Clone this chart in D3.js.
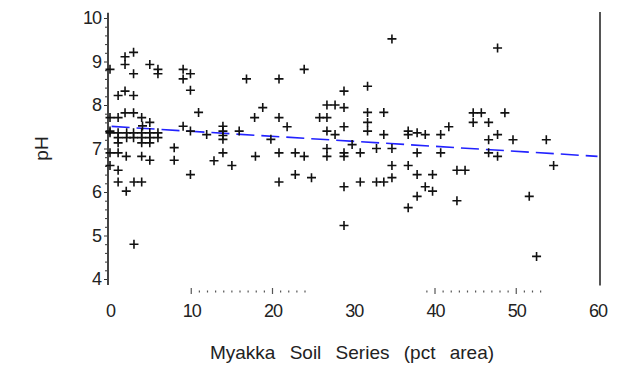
<!DOCTYPE html>
<html>
<head>
<meta charset="utf-8">
<script src="https://cdn.jsdelivr.net/npm/d3@7"></script>
<style>
  body { margin: 0; background: #fff; }
  text { font-family: "Liberation Sans", Arial, sans-serif; fill: #222; }
</style>
</head>
<body>
<svg id="drawing_region"></svg>
<script>
// Myakka soil series (pct area) vs pH
const myakkaPct = [
    0, 1.85, 2.9, 1.85, 2.9, 4.9, 5.9, 5.9, 9.0, 9.9, 9.0, 9.9, 1.85, 1.0, 2.9,
    1.85, 2.9, 10.9, 0, 1.0, 3.9, 4.9, 4.0, 0, 9.0, 9.9,
    0, 1.0, 2.05, 2.9, 3.9, 4.9, 5.9, 1.0, 2.05, 2.9, 3.9, 4.9, 5.9,
    1.0, 3.9, 4.9, 7.9, 0, 1.0, 2.0, 3.9, 4.9, 7.9, 0, 1.0, 9.9,
    1.0, 2.95, 3.9, 2.0, 2.95,
    11.9, 13.9, 13.9, 13.9, 13.9, 13.9, 12.8, 15.0, 15.9, 16.8, 17.9, 17.8, 18.8, 19.8,
    20.8, 20.8, 20.8, 20.8, 21.8, 22.8, 22.8, 23.9, 23.9, 24.8, 25.8,
    26.7, 26.7, 26.7, 26.7, 26.7, 27.7, 27.7,
    28.8, 28.8, 28.8, 28.8, 28.8, 28.8, 28.8, 29.8, 30.8, 30.8,
    31.7, 31.7, 31.7, 31.7, 32.8, 32.8, 33.7, 33.7, 33.7, 34.7, 34.7, 34.7, 34.7,
    36.7, 36.7, 37.8, 38.8, 40.7, 36.7, 36.7, 37.8, 37.8, 37.8, 38.8, 39.7, 39.7,
    40.7, 41.7, 42.7, 43.7, 42.7, 44.7, 45.7, 48.6, 44.7, 46.6, 47.7, 46.6,
    49.6, 53.7, 46.6, 47.7, 47.7, 54.6, 51.6, 52.5
];
const soilPH = [
    8.82, 9.11, 9.21, 8.93, 8.72, 8.93, 8.82, 8.72, 8.82, 8.72, 8.6, 8.34, 8.32, 8.22, 8.22,
    7.82, 7.82, 7.83, 7.71, 7.71, 7.71, 7.6, 7.52, 7.4, 7.51, 7.4,
    7.36, 7.36, 7.36, 7.36, 7.36, 7.36, 7.36, 7.25, 7.25, 7.25, 7.25, 7.25, 7.25,
    7.13, 7.13, 7.13, 7.02, 6.9, 6.9, 6.82, 6.82, 6.73, 6.73, 6.61, 6.5, 6.4,
    6.23, 6.23, 6.23, 6.02, 4.8,
    7.32, 7.51, 7.4, 7.3, 7.21, 6.9, 6.72, 6.61, 7.4, 8.6, 6.82, 7.71, 7.94, 7.21,
    8.6, 7.71, 6.9, 6.23, 7.5, 6.9, 6.4, 8.82, 6.82, 6.33, 7.71,
    8.0, 7.71, 7.4, 7.0, 6.82, 8.0, 7.32,
    8.32, 7.94, 7.5, 6.9, 6.82, 6.12, 5.23, 7.09, 6.9, 6.23,
    8.43, 7.83, 7.6, 7.4, 7.0, 6.23, 7.83, 7.32, 6.23, 9.52, 7.0, 6.61, 6.33,
    7.4, 7.32, 7.36, 7.32, 7.32, 6.61, 5.64, 6.9, 6.4, 5.9, 6.12, 6.4, 6.02,
    6.9, 7.5, 6.5, 6.5, 5.8, 7.82, 7.82, 7.82, 7.6, 7.6, 7.32, 7.2,
    7.2, 7.2, 6.9, 6.82, 9.31, 6.61, 5.9, 4.52
];

// linear fit drawn as dashed line
const fitIntercept = 7.51;
const fitSlope = -0.0115;
const fitRange = [0.2, 60];

const xTicks = [0, 10, 20, 30, 40, 50, 60];
const yTicks = [4, 5, 6, 7, 8, 9, 10];
const xDottedRanges = [[10, 24], [39, 53]];

const config = {
    parent: '#drawing_region',
    width: 619,
    height: 370
};

const svg = d3.select(config.parent)
    .attr('width', config.width)
    .attr('height', config.height);

const xscale = d3.scaleLinear().domain([0, 60]).range([110, 597.5]);
const yscale = d3.scaleLinear().domain([4, 10]).range([279, 18]);

// y axis line
svg.append('line')
    .attr('x1', 108).attr('x2', 108)
    .attr('y1', yscale(10.12)).attr('y2', yscale(3.86))
    .attr('stroke', '#444').attr('stroke-width', 2);

// right frame line
svg.append('line')
    .attr('x1', xscale(60) + 2.5).attr('x2', xscale(60) + 2.5)
    .attr('y1', yscale(10.14)).attr('y2', yscale(3.85))
    .attr('stroke', '#555').attr('stroke-width', 2);

// y minor ticks
const yMinor = d3.range(4, 10.01, 0.2).filter(v => Math.abs(v - Math.round(v)) > 0.01);
svg.append('g')
    .attr('transform', 'translate(107,0)')
    .call(d3.axisLeft(yscale).tickValues(yMinor).tickSize(2).tickFormat(''))
    .call(g => g.select('.domain').remove())
    .call(g => g.selectAll('line').attr('stroke', '#333'));

// y major ticks + labels
svg.append('g')
    .attr('transform', 'translate(107,0)')
    .call(d3.axisLeft(yscale).tickValues(yTicks).tickSize(3).tickPadding(3).tickFormat(d3.format('d')))
    .call(g => g.select('.domain').remove())
    .call(g => g.selectAll('line').attr('stroke', '#333'))
    .call(g => g.selectAll('text')
        .attr('font-size', 18)
        .attr('font-family', '"Liberation Sans", Arial, sans-serif')
        .style('letter-spacing', '-1px')
        .attr('fill', '#222'));

// x labels
svg.append('g')
    .attr('transform', 'translate(0,300)')
    .call(d3.axisBottom(xscale).tickValues(xTicks).tickSize(0).tickPadding(4))
    .call(g => g.select('.domain').remove())
    .call(g => g.selectAll('text')
        .attr('font-size', 18)
        .attr('font-family', '"Liberation Sans", Arial, sans-serif')
        .style('letter-spacing', '-1px')
        .attr('fill', '#222'));

// partial dotted tick rows under the plot
xDottedRanges.forEach(r => {
    const vals = d3.range(r[0], r[1] + 1);
    svg.append('g').selectAll('line')
        .data(vals)
        .enter()
        .append('line')
        .attr('x1', d => xscale(d)).attr('x2', d => xscale(d))
        .attr('y1', d => d % 10 === 0 ? 288 : 290.5)
        .attr('y2', d => d % 10 === 0 ? 294 : 292.5)
        .attr('stroke', '#555')
        .attr('stroke-width', 1.2);
});

// regression line
svg.append('line')
    .attr('x1', xscale(fitRange[0]))
    .attr('y1', yscale(fitIntercept + fitSlope * fitRange[0]))
    .attr('x2', xscale(fitRange[1]))
    .attr('y2', yscale(fitIntercept + fitSlope * fitRange[1]))
    .attr('stroke', '#2222ff')
    .attr('stroke-width', 1.6)
    .attr('stroke-dasharray', '18,7');

// points as plus markers
const points = myakkaPct.map((x, i) => ({ x: x, y: soilPH[i] }));
svg.append('g').selectAll('path')
    .data(points)
    .enter()
    .append('path')
    .attr('transform', d => `translate(${xscale(d.x)},${yscale(d.y)})`)
    .attr('d', 'M-4.5,0H4.5M0,-4.5V4.5')
    .attr('stroke', '#111')
    .attr('stroke-width', 1.6)
    .attr('fill', 'none');

// axis titles
svg.append('text')
    .attr('x', 352)
    .attr('y', 359)
    .attr('text-anchor', 'middle')
    .attr('font-size', 19)
    .style('word-spacing', '9px')
    .text('Myakka Soil Series (pct area)');

svg.append('text')
    .attr('transform', `rotate(-90,48,${yscale(7)})`)
    .attr('x', 48)
    .attr('y', yscale(7))
    .attr('text-anchor', 'middle')
    .attr('font-size', 19)
    .text('pH');
</script>
</body>
</html>
